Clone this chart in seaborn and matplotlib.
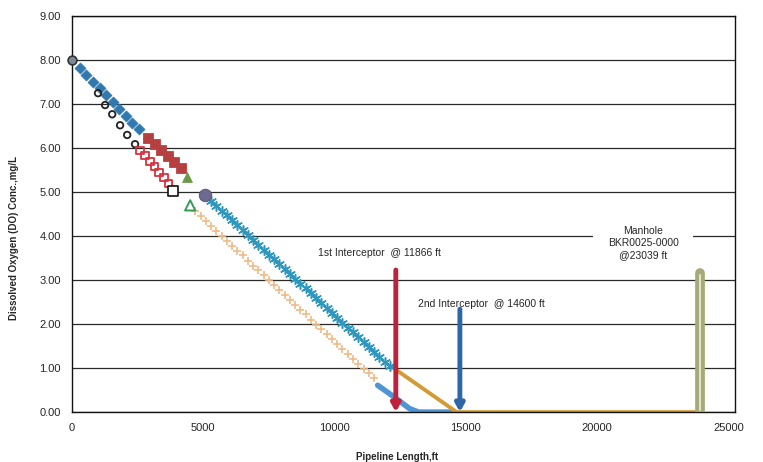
import numpy as np
import pandas as pd
import seaborn as sns
import matplotlib.pyplot as plt

# valores (pes, mg/L)
start_x = [0]
start_y = [8.00]

diamond_x = [300, 550, 800, 1050, 1300, 1550, 1800, 2050, 2300, 2550]
diamond_y = [7.82, 7.66, 7.51, 7.36, 7.20, 7.05, 6.89, 6.74, 6.58, 6.43]

redsq_x = [2900, 3150, 3400, 3650, 3900, 4150]
redsq_y = [6.23, 6.09, 5.95, 5.82, 5.68, 5.55]

circle_x = [990, 1260, 1530, 1830, 2100, 2400]
circle_y = [7.25, 6.98, 6.77, 6.52, 6.30, 6.09]

ropen_x = [2600, 2780, 2960, 3140, 3320, 3500, 3680]
ropen_y = [5.95, 5.83, 5.70, 5.58, 5.45, 5.33, 5.20]

bsq_x = [3860]
bsq_y = [5.03]

gtri_x = [4390]
gtri_y = [5.34]

gtri_open_x = [4500]
gtri_open_y = [4.70]

purple_x = [5080]
purple_y = [4.93]

teal_x = [5300, 5500, 5700, 5900, 6100, 6300, 6500, 6700, 6900, 7100,
          7300, 7500, 7700, 7900, 8100, 8300, 8500, 8700, 8900, 9100,
          9300, 9500, 9700, 9900, 10100, 10300, 10500, 10700, 10900, 11100,
          11300, 11500, 11700, 11900, 12100]
teal_y = [4.80, 4.69, 4.58, 4.47, 4.36, 4.25, 4.14, 4.03, 3.92, 3.80,
          3.69, 3.58, 3.47, 3.36, 3.25, 3.14, 3.03, 2.92, 2.81, 2.70,
          2.59, 2.48, 2.37, 2.26, 2.15, 2.03, 1.92, 1.81, 1.70, 1.59,
          1.48, 1.37, 1.26, 1.15, 1.04]

plus_x = [4700, 4900, 5100, 5300, 5500, 5700, 5900, 6100, 6300, 6500,
          6700, 6900, 7100, 7300, 7500, 7700, 7900, 8100, 8300, 8500,
          8700, 8900, 9100, 9300, 9500, 9700, 9900, 10100, 10300, 10500,
          10700, 10900, 11100, 11300, 11500]
plus_y = [4.56, 4.45, 4.34, 4.23, 4.11, 4.00, 3.89, 3.78, 3.67, 3.56,
          3.44, 3.33, 3.22, 3.11, 3.00, 2.89, 2.77, 2.66, 2.55, 2.44,
          2.33, 2.22, 2.10, 1.99, 1.88, 1.77, 1.66, 1.55, 1.44, 1.32,
          1.21, 1.10, 0.99, 0.88, 0.77]

blue_x = [11640, 12300, 12850, 13200, 14500]
blue_y = [0.61, 0.33, 0.08, 0.0, 0.0]

orange_x = [12200, 14650, 23950]
orange_y = [1.02, 0.0, 0.0]

arrow_x = [12330, 14770]
arrow_top = [3.23, 2.34]
arrow_colors = ['#c0213a', '#2c68a8']

manhole_x = 23930
manhole_top = 3.16

xticks = [0, 5000, 10000, 15000, 20000, 25000]
yticks = [0, 1, 2, 3, 4, 5, 6, 7, 8, 9]

sns.set_style("white")
plt.rcParams['font.family'] = ['Liberation Sans', 'DejaVu Sans']

fig = plt.figure(figsize=(7.63, 4.62), dpi=100)
ax = fig.add_axes([0.0944, 0.108, 0.869, 0.857])

# linhas
sns.lineplot(x=blue_x, y=blue_y, color='#4f95d3', linewidth=4, ax=ax, legend=False)
sns.lineplot(x=orange_x, y=orange_y, color='#d39a36', linewidth=2.8, ax=ax, legend=False)

# marcadores
sns.scatterplot(x=plus_x, y=plus_y, marker='+', s=34, color='#eebb86', linewidth=1.2, ax=ax, zorder=3)
sns.scatterplot(x=teal_x, y=teal_y, marker=(6, 2, 0), s=48, color='#2e97bd', linewidth=1.1, ax=ax, zorder=3)
sns.scatterplot(x=diamond_x, y=diamond_y, marker='D', s=32, color='#2f78b0', edgecolor='#2f78b0', ax=ax, zorder=4)
sns.scatterplot(x=circle_x, y=circle_y, marker='o', s=22, facecolors='none', edgecolors='#222222', linewidth=1.3, ax=ax, zorder=4)
sns.scatterplot(x=redsq_x, y=redsq_y, marker='s', s=50, color='#b5403f', edgecolor='#b5403f', ax=ax, zorder=4)
sns.scatterplot(x=ropen_x, y=ropen_y, marker='s', s=30, facecolors='none', edgecolors='#d8323f', linewidth=1.3, ax=ax, zorder=4)
sns.scatterplot(x=bsq_x, y=bsq_y, marker='s', s=45, facecolors='white', edgecolors='#111111', linewidth=1.2, ax=ax, zorder=4)
sns.scatterplot(x=gtri_x, y=gtri_y, marker='^', s=50, color='#6a9a48', edgecolor='#6a9a48', ax=ax, zorder=4)
sns.scatterplot(x=gtri_open_x, y=gtri_open_y, marker='^', s=55, facecolors='none', edgecolors='#3a9a5a', linewidth=1.4, ax=ax, zorder=4)
sns.scatterplot(x=purple_x, y=purple_y, marker='o', s=80, color='#6c6a90', edgecolor='#5a587a', ax=ax, zorder=5)
sns.scatterplot(x=start_x, y=start_y, marker='o', s=40, color='#7a8a99', edgecolor='#333333', linewidth=1.2, ax=ax, zorder=5, clip_on=False)

# setas dos interceptores
for xa, ta, ca in zip(arrow_x, arrow_top, arrow_colors):
    ax.annotate('', xy=(xa, 0), xytext=(xa, ta),
                arrowprops=dict(arrowstyle='-|>,head_width=0.25,head_length=0.45',
                                color=ca, lw=3.5, shrinkA=0, shrinkB=0), zorder=6)

# poco de visita
ax.plot([manhole_x, manhole_x], [0, manhole_top], color='#a7aa78', lw=7, solid_capstyle='round', zorder=6)
ax.plot([manhole_x, manhole_x], [0.05, manhole_top - 0.05], color='#e2e4c6', lw=1.5, zorder=7)

ax.text(9350, 3.62, '1st Interceptor  @ 11866 ft', fontsize=7.5, va='center', ha='left')
ax.text(13170, 2.45, '2nd Interceptor  @ 14600 ft', fontsize=7.5, va='center', ha='left')
ax.text(21760, 3.84, 'Manhole\nBKR0025-0000\n@23039 ft', fontsize=7.5, va='center', ha='center',
        linespacing=1.25, bbox=dict(facecolor='white', edgecolor='none', boxstyle='square,pad=1.4'), zorder=5)

ax.set_xlim(0, 25250)
ax.set_ylim(0, 9)
ax.set_xticks(xticks)
ax.set_yticks(yticks)
ax.set_xticklabels([str(t) for t in xticks], fontsize=8)
ax.set_yticklabels(['%.2f' % t for t in yticks], fontsize=8)
ax.tick_params(axis='both', length=0, pad=8)

ax.set_axisbelow(True)
ax.yaxis.grid(True, color='#2a2a2a', linewidth=0.9)
ax.xaxis.grid(False)
for sp in ax.spines.values():
    sp.set_color('#111111')
    sp.set_linewidth(1.0)

ax.set_xlabel('Pipeline Length,ft', fontsize=7, fontweight='bold')
ax.set_ylabel('Dissolved Oxygen (DO) Conc.,mg/L', fontsize=7, fontweight='bold')
ax.xaxis.set_label_coords(0.49, -0.1)
ax.yaxis.set_label_coords(-0.08, 0.44)

fig.savefig('out.png', dpi=100)
